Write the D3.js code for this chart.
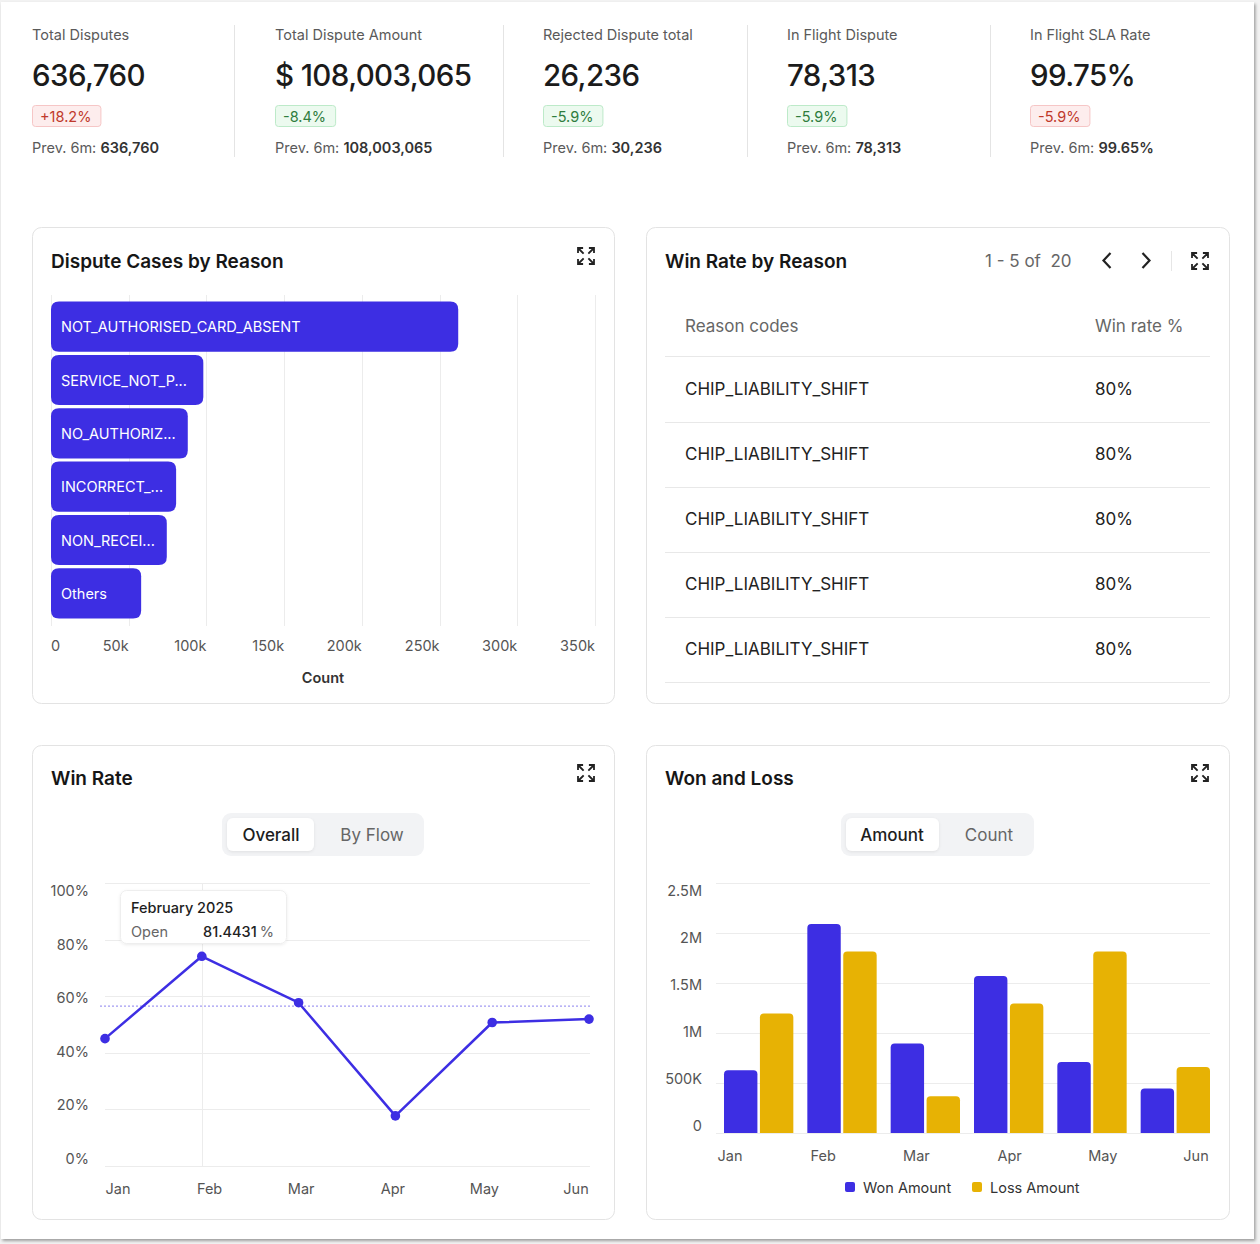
<!DOCTYPE html>
<html>
<head>
<meta charset="utf-8">
<script src="https://cdn.jsdelivr.net/npm/d3@7"></script>
<style>
    html, body { margin: 0; padding: 0; background: #f2f2f2; }
    svg { display: block; font-family: Inter, "Noto Sans", sans-serif; }
</style>
</head>
<body>
<div id="chart"></div>
<script>
// KPI strip
const kpiLabels = ['Total Disputes', 'Total Dispute Amount', 'Rejected Dispute total', 'In Flight Dispute', 'In Flight SLA Rate'];
const kpiValues = ['636,760', '$ 108,003,065', '26,236', '78,313', '99.75%'];
const kpiDeltas = ['+18.2%', '-8.4%', '-5.9%', '-5.9%', '-5.9%'];
const kpiDeltaGood = [false, true, true, true, false];
const kpiPrev = ['636,760', '108,003,065', '30,236', '78,313', '99.65%'];

// Dispute cases by reason
const reasons = ['NOT_AUTHORISED_CARD_ABSENT', 'SERVICE_NOT_P...', 'NO_AUTHORIZ...', 'INCORRECT_...', 'NON_RECEI...', 'Others'];
const reasonCounts = [262000, 98000, 88000, 80500, 74500, 58000];
const countTicks = [0, 50000, 100000, 150000, 200000, 250000, 300000, 350000];

// Win rate by reason table
const tableHeaders = ['Reason codes', 'Win rate %'];
const tableReasons = ['CHIP_LIABILITY_SHIFT', 'CHIP_LIABILITY_SHIFT', 'CHIP_LIABILITY_SHIFT', 'CHIP_LIABILITY_SHIFT', 'CHIP_LIABILITY_SHIFT'];
const tableRates = ['80%', '80%', '80%', '80%', '80%'];

// Win rate line
const months = ['Jan', 'Feb', 'Mar', 'Apr', 'May', 'Jun'];
const winRate = [45.0, 74.1, 57.7, 17.7, 50.7, 51.9];
const winRateRef = 56.5;
const rateTicks = [0, 20, 40, 60, 80, 100];

// Won and loss
const wonAmount = [627000, 2090000, 895000, 1569000, 711000, 444000];
const lossAmount = [1195000, 1816000, 367000, 1295000, 1816000, 661000];
const amountTicks = [0, 500000, 1000000, 1500000, 2000000, 2500000];
const amountTickLabels = ['0', '500K', '1M', '1.5M', '2M', '2.5M'];
const seriesNames = ['Won Amount', 'Loss Amount'];

const BLUE = '#3d2ee3';
const GOLD = '#e7b204';
const GRID = '#ececec';

const W = 1260, H = 1244;
const svg = d3.select('#chart').append('svg')
    .attr('width', W)
    .attr('height', H);

const defs = svg.append('defs');
const shadow = defs.append('filter').attr('id', 'pageShadow')
    .attr('x', '-5%').attr('y', '-5%').attr('width', '110%').attr('height', '110%');
shadow.append('feDropShadow')
    .attr('dx', 1.5).attr('dy', 2).attr('stdDeviation', 1.6)
    .attr('flood-color', '#000').attr('flood-opacity', 0.35);
const tipShadow = defs.append('filter').attr('id', 'tipShadow')
    .attr('x', '-10%').attr('y', '-20%').attr('width', '120%').attr('height', '140%');
tipShadow.append('feDropShadow')
    .attr('dx', 0).attr('dy', 1).attr('stdDeviation', 1.5)
    .attr('flood-color', '#000').attr('flood-opacity', 0.08);

// page panel
svg.append('rect')
    .attr('x', 1).attr('y', 2).attr('width', 1253).attr('height', 1237)
    .attr('fill', '#fff')
    .attr('filter', 'url(#pageShadow)');

// ---------- KPI strip ----------
const kpiX = [32, 275, 543, 787, 1030];
const dividerX = [234, 503, 747, 990];

svg.append('g').selectAll('line')
    .data(dividerX)
    .enter().append('line')
    .attr('x1', d => d + 0.5).attr('x2', d => d + 0.5)
    .attr('y1', 25).attr('y2', 157)
    .attr('stroke', '#e4e4e4');

kpiLabels.forEach((lab, i) => {
    const g = svg.append('g').attr('transform', `translate(${kpiX[i]},0)`);
    g.append('text')
        .attr('y', 34).attr('dominant-baseline', 'central')
        .attr('font-size', 14.5).attr('fill', '#5a5a5a')
        .text(lab);
    g.append('text')
        .attr('y', 75).attr('dominant-baseline', 'central')
        .attr('font-size', 29.5).attr('font-weight', 500).attr('fill', '#1b1b1b')
        .attr('letter-spacing', -0.6)
        .text(kpiValues[i]);

    const good = kpiDeltaGood[i];
    const badge = g.append('g');
    const rect = badge.append('rect');
    const bt = badge.append('text')
        .attr('x', 8).attr('y', 116).attr('dominant-baseline', 'central')
        .attr('font-size', 14.5).attr('fill', good ? '#2f7d3e' : '#c0392b')
        .text(kpiDeltas[i]);
    const tw = bt.node().getComputedTextLength();
    rect.attr('x', 0.5).attr('y', 105.5).attr('width', tw + 17).attr('height', 21)
        .attr('rx', 3)
        .attr('fill', good ? '#ecfaef' : '#fdeded')
        .attr('stroke', good ? '#bdeac9' : '#f6c6c6');

    const pt = g.append('text')
        .attr('y', 147).attr('dominant-baseline', 'central')
        .attr('font-size', 14.5).attr('fill', '#5a5a5a');
    pt.append('tspan').text('Prev. 6m: ');
    pt.append('tspan').attr('font-weight', 600).attr('fill', '#333').text(kpiPrev[i]);
});

// ---------- helpers ----------
function card(x, y, w, h) {
    svg.append('rect')
        .attr('x', x + 0.5).attr('y', y + 0.5)
        .attr('width', w).attr('height', h)
        .attr('rx', 9)
        .attr('fill', '#fff')
        .attr('stroke', '#e3e3e3');
}

function title(x, y, txt) {
    svg.append('text')
        .attr('x', x).attr('y', y).attr('dominant-baseline', 'central')
        .attr('font-size', 19).attr('font-weight', 600).attr('fill', '#161616')
        .text(txt);
}

function expandIcon(cx, cy) {
    const g = svg.append('g')
        .attr('transform', `translate(${cx},${cy})`)
        .attr('fill', 'none').attr('stroke', '#222')
        .attr('stroke-width', 1.8).attr('stroke-linecap', 'square');
    [[-1, -1], [1, -1], [-1, 1], [1, 1]].forEach(([sx, sy]) => {
        g.append('path').attr('d',
            `M${sx * 3},${sy * 3}L${sx * 7.5},${sy * 7.5}` +
            `M${sx * 8},${sy * 3.8}L${sx * 8},${sy * 8}L${sx * 3.8},${sy * 8}`);
    });
}

function segmented(x, y, w, h, pillW, labels, centers) {
    svg.append('rect')
        .attr('x', x).attr('y', y).attr('width', w).attr('height', h)
        .attr('rx', 9).attr('fill', '#f2f3f5');
    svg.append('rect')
        .attr('x', x + 5).attr('y', y + 5).attr('width', pillW).attr('height', h - 10)
        .attr('rx', 6).attr('fill', '#fff')
        .attr('filter', 'url(#tipShadow)');
    labels.forEach((l, i) => {
        svg.append('text')
            .attr('x', centers[i]).attr('y', y + h / 2 + 0.5)
            .attr('text-anchor', 'middle').attr('dominant-baseline', 'central')
            .attr('font-size', 17).attr('font-weight', i === 0 ? 500 : 400)
            .attr('fill', i === 0 ? '#1d1d1d' : '#666')
            .text(l);
    });
}

function topRounded(x, y, w, h, r) {
    r = Math.min(r, h, w / 2);
    return `M${x},${y + h}V${y + r}Q${x},${y} ${x + r},${y}H${x + w - r}Q${x + w},${y} ${x + w},${y + r}V${y + h}Z`;
}

function roundedBar(x, y, w, h, r) {
    r = Math.min(r, h / 2, w / 2);
    return `M${x},${y + r}Q${x},${y} ${x + r},${y}H${x + w - r}Q${x + w},${y} ${x + w},${y + r}` +
        `V${y + h - r}Q${x + w},${y + h} ${x + w - r},${y + h}H${x + r}Q${x},${y + h} ${x},${y + h - r}Z`;
}

// ---------- Card 1: Dispute Cases by Reason ----------
card(32, 227, 582, 476);
title(51, 261, 'Dispute Cases by Reason');
expandIcon(586, 256);

const xCount = d3.scaleLinear().domain([0, 350000]).range([51, 595]);
const yReason = d3.scaleBand().domain(reasons).range([300, 620]).paddingInner(0.06).paddingOuter(0.03);

svg.append('g').selectAll('line')
    .data(countTicks)
    .enter().append('line')
    .attr('x1', d => Math.round(xCount(d)) + 0.5).attr('x2', d => Math.round(xCount(d)) + 0.5)
    .attr('y1', 295).attr('y2', 626)
    .attr('stroke', GRID);

svg.append('g').selectAll('path')
    .data(reasons)
    .enter().append('path')
    .attr('d', (d, i) => roundedBar(xCount(0), yReason(d), xCount(reasonCounts[i]) - xCount(0), yReason.bandwidth(), 8))
    .attr('fill', BLUE);

svg.append('g').selectAll('text')
    .data(reasons)
    .enter().append('text')
    .attr('x', 61)
    .attr('y', d => yReason(d) + yReason.bandwidth() / 2)
    .attr('dominant-baseline', 'central')
    .attr('font-size', 14.5).attr('fill', '#fff')
    .text(d => d);

svg.append('g').selectAll('text')
    .data(countTicks)
    .enter().append('text')
    .attr('x', d => xCount(d))
    .attr('y', 645)
    .attr('dominant-baseline', 'central')
    .attr('text-anchor', (d, i) => i === 0 ? 'start' : 'end')
    .attr('font-size', 14.5).attr('fill', '#555')
    .text(d => d === 0 ? '0' : d3.format('~s')(d));

svg.append('text')
    .attr('x', 323).attr('y', 677)
    .attr('text-anchor', 'middle').attr('dominant-baseline', 'central')
    .attr('font-size', 14.5).attr('font-weight', 600).attr('fill', '#333')
    .text('Count');

// ---------- Card 2: Win Rate by Reason ----------
card(646, 227, 583, 476);
title(665, 261, 'Win Rate by Reason');

svg.append('text')
    .attr('x', 985).attr('y', 261).attr('dominant-baseline', 'central')
    .attr('font-size', 17).attr('fill', '#666')
    .attr('xml:space', 'preserve')
    .text('1 - 5 of  20');

svg.append('path')
    .attr('d', 'M1110.5,253L1103.5,260.5L1110.5,268')
    .attr('fill', 'none').attr('stroke', '#222').attr('stroke-width', 2.2);
svg.append('path')
    .attr('d', 'M1142.5,253L1149.5,260.5L1142.5,268')
    .attr('fill', 'none').attr('stroke', '#222').attr('stroke-width', 2.2);
svg.append('line')
    .attr('x1', 1171.5).attr('x2', 1171.5).attr('y1', 251).attr('y2', 271)
    .attr('stroke', '#e6e6e6');
expandIcon(1200, 261);

const colX = [685, 1095];
const rowY = d3.scaleBand().domain(d3.range(tableReasons.length)).range([356.5, 681.5]);

tableHeaders.forEach((h, i) => {
    svg.append('text')
        .attr('x', colX[i]).attr('y', 326).attr('dominant-baseline', 'central')
        .attr('font-size', 17).attr('fill', '#666')
        .text(h);
});

svg.append('g').selectAll('line')
    .data([356].concat(d3.range(tableReasons.length).map(i => Math.round(rowY(i) + rowY.bandwidth()))))
    .enter().append('line')
    .attr('x1', 665).attr('x2', 1210)
    .attr('y1', d => d + 0.5).attr('y2', d => d + 0.5)
    .attr('stroke', '#e8e8e8');

const rows = svg.append('g').selectAll('g')
    .data(tableReasons)
    .enter().append('g');
rows.append('text')
    .attr('x', colX[0]).attr('y', (d, i) => rowY(i) + rowY.bandwidth() / 2)
    .attr('dominant-baseline', 'central')
    .attr('font-size', 17).attr('fill', '#222')
    .text(d => d);
rows.append('text')
    .attr('x', colX[1]).attr('y', (d, i) => rowY(i) + rowY.bandwidth() / 2)
    .attr('dominant-baseline', 'central')
    .attr('font-size', 17).attr('fill', '#222')
    .text((d, i) => tableRates[i]);

// ---------- Card 3: Win Rate ----------
card(32, 745, 582, 474);
title(51, 778, 'Win Rate');
expandIcon(586, 773);
segmented(222, 813, 202, 43, 87, ['Overall', 'By Flow'], [271, 372]);

const xMonth = d3.scalePoint().domain(months).range([105, 589]);
const xMonthLabel = d3.scalePoint().domain(months).range([118, 576]);
const yRate = d3.scaleLinear().domain([0, 100]).range([1166, 883]);
const yRateLabel = d3.scaleLinear().domain([0, 100]).range([1158.5, 890.5]);

svg.append('g').selectAll('line')
    .data(rateTicks)
    .enter().append('line')
    .attr('x1', 105).attr('x2', 590)
    .attr('y1', d => Math.round(yRate(d)) + 0.5).attr('y2', d => Math.round(yRate(d)) + 0.5)
    .attr('stroke', GRID);

svg.append('g').selectAll('text')
    .data(rateTicks)
    .enter().append('text')
    .attr('x', 89).attr('y', d => yRateLabel(d))
    .attr('text-anchor', 'end').attr('dominant-baseline', 'central')
    .attr('font-size', 14.5).attr('fill', '#555')
    .text(d => d + '%');

svg.append('g').selectAll('text')
    .data(months)
    .enter().append('text')
    .attr('x', d => xMonthLabel(d)).attr('y', 1188)
    .attr('text-anchor', 'middle').attr('dominant-baseline', 'central')
    .attr('font-size', 14.5).attr('fill', '#555')
    .text(d => d);

// hover crosshair on Feb
svg.append('line')
    .attr('x1', Math.round(xMonth('Feb')) + 0.5).attr('x2', Math.round(xMonth('Feb')) + 0.5)
    .attr('y1', yRate(100)).attr('y2', yRate(0))
    .attr('stroke', '#ececec');

// reference line
svg.append('line')
    .attr('x1', 100).attr('x2', 590)
    .attr('y1', yRate(winRateRef)).attr('y2', yRate(winRateRef))
    .attr('stroke', '#8a80ee').attr('stroke-width', 1)
    .attr('stroke-dasharray', '2,2');

const line = d3.line()
    .x((d, i) => xMonth(months[i]))
    .y(d => yRate(d));

svg.append('path')
    .datum(winRate)
    .attr('d', line)
    .attr('fill', 'none')
    .attr('stroke', BLUE).attr('stroke-width', 2.5)
    .attr('stroke-linejoin', 'round');

svg.append('g').selectAll('circle')
    .data(winRate)
    .enter().append('circle')
    .attr('cx', (d, i) => xMonth(months[i]))
    .attr('cy', d => yRate(d))
    .attr('r', 4.8)
    .attr('fill', BLUE);

// tooltip
const tip = svg.append('g');
tip.append('rect')
    .attr('x', 120.5).attr('y', 890.5).attr('width', 166).attr('height', 53)
    .attr('rx', 6)
    .attr('fill', '#fff').attr('stroke', '#eeeeee')
    .attr('filter', 'url(#tipShadow)');
tip.append('text')
    .attr('x', 131).attr('y', 907).attr('dominant-baseline', 'central')
    .attr('font-size', 14.5).attr('font-weight', 500).attr('fill', '#1d1d1d')
    .text('February 2025');
tip.append('text')
    .attr('x', 131).attr('y', 931).attr('dominant-baseline', 'central')
    .attr('font-size', 14.5).attr('fill', '#666')
    .text('Open');
const tv = tip.append('text')
    .attr('x', 203).attr('y', 931).attr('dominant-baseline', 'central')
    .attr('font-size', 14.5).attr('fill', '#222');
tv.append('tspan').attr('font-weight', 500).text('81.4431');
tv.append('tspan').attr('fill', '#666').attr('dx', 3).text('%');

// ---------- Card 4: Won and Loss ----------
card(646, 745, 583, 474);
title(665, 778, 'Won and Loss');
expandIcon(1200, 773);
segmented(841, 813, 193, 43, 93, ['Amount', 'Count'], [892, 989]);

const x0 = d3.scaleBand().domain(months).range([724, 1210]).paddingInner(0.168);
const x1 = d3.scaleBand().domain(seriesNames).range([0, x0.bandwidth()]).paddingInner(0.07);
const xGroupLabel = d3.scalePoint().domain(months).range([730, 1196]);
const yAmt = d3.scaleLinear().domain([0, 2500000]).range([1133, 883]);
const yAmtLabel = d3.scaleLinear().domain([0, 2500000]).range([1125.5, 890.5]);
const colorSeries = d3.scaleOrdinal().domain(seriesNames).range([BLUE, GOLD]);

svg.append('g').selectAll('line')
    .data(amountTicks)
    .enter().append('line')
    .attr('x1', 716).attr('x2', 1210)
    .attr('y1', d => Math.round(yAmt(d)) + 0.5).attr('y2', d => Math.round(yAmt(d)) + 0.5)
    .attr('stroke', GRID);

svg.append('g').selectAll('text')
    .data(amountTicks)
    .enter().append('text')
    .attr('x', 702).attr('y', d => yAmtLabel(d))
    .attr('text-anchor', 'end').attr('dominant-baseline', 'central')
    .attr('font-size', 14.5).attr('fill', '#555')
    .text((d, i) => amountTickLabels[i]);

const groups = svg.append('g').selectAll('g')
    .data(months)
    .enter().append('g')
    .attr('transform', d => `translate(${x0(d)},0)`);

groups.selectAll('path')
    .data((d, i) => [
        { key: seriesNames[0], value: wonAmount[i] },
        { key: seriesNames[1], value: lossAmount[i] }
    ])
    .enter().append('path')
    .attr('d', d => topRounded(x1(d.key), yAmt(d.value), x1.bandwidth(), yAmt(0) - yAmt(d.value), 4))
    .attr('fill', d => colorSeries(d.key));

svg.append('g').selectAll('text')
    .data(months)
    .enter().append('text')
    .attr('x', d => xGroupLabel(d)).attr('y', 1155)
    .attr('text-anchor', 'middle').attr('dominant-baseline', 'central')
    .attr('font-size', 14.5).attr('fill', '#555')
    .text(d => d);

// legend
const legendX = [845, 972];
const legend = svg.append('g').selectAll('g')
    .data(seriesNames)
    .enter().append('g')
    .attr('transform', (d, i) => `translate(${legendX[i]},1187)`);
legend.append('rect')
    .attr('x', 0).attr('y', -5).attr('width', 10).attr('height', 10)
    .attr('rx', 2)
    .attr('fill', d => colorSeries(d));
legend.append('text')
    .attr('x', 18).attr('y', 0).attr('dominant-baseline', 'central')
    .attr('font-size', 14.5).attr('fill', '#333')
    .text(d => d);
</script>
</body>
</html>
